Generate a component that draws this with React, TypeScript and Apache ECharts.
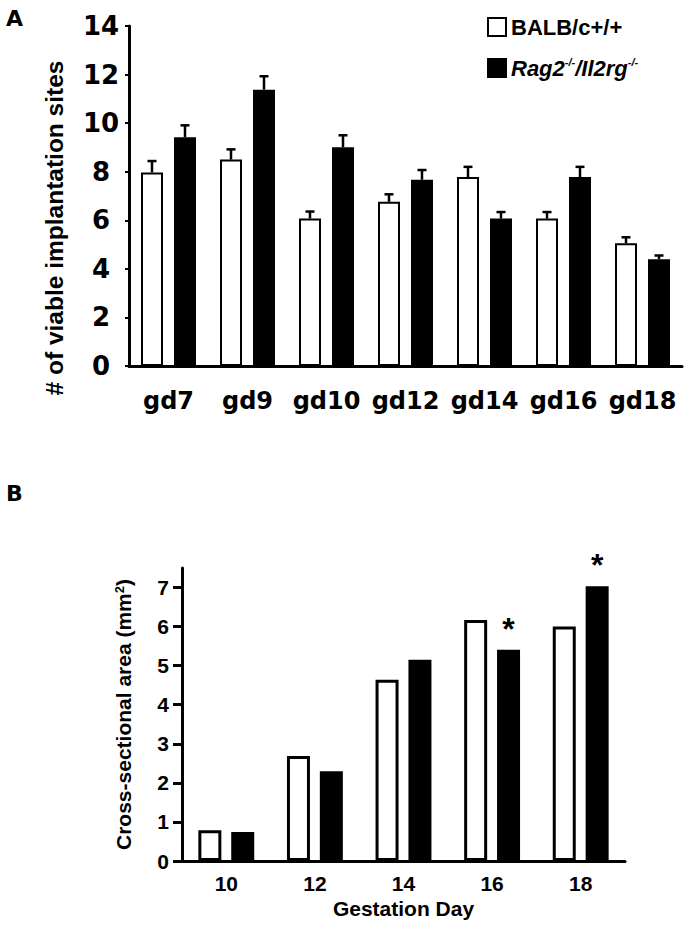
import React, { useEffect, useRef } from "react";
import * as echarts from "echarts";

// Panel A
const categoriesA = ["gd7", "gd9", "gd10", "gd12", "gd14", "gd16", "gd18"];
const balbA = [7.97, 8.5, 6.07, 6.76, 7.78, 6.07, 5.05];
const balbErrA = [0.47, 0.42, 0.29, 0.31, 0.42, 0.27, 0.25];
const ragA = [9.42, 11.38, 9.01, 7.67, 6.07, 7.78, 4.4];
const ragErrA = [0.49, 0.55, 0.49, 0.4, 0.27, 0.42, 0.15];
const yTicksA = [0, 2, 4, 6, 8, 10, 12, 14];

// Panel B
const categoriesB = ["10", "12", "14", "16", "18"];
const balbB = [0.79, 2.69, 4.64, 6.17, 6.0];
const ragB = [0.74, 2.3, 5.15, 5.41, 7.03];
const sigB = [false, false, false, true, true];
const yTicksB = [0, 1, 2, 3, 4, 5, 6, 7];

const NAME_BALB = "BALB/c+/+";
const NAME_RAG = "Rag2-/-/Il2rg-/-";

const DEJAVU = "'DejaVu Sans', sans-serif";
const ARIAL = "'Liberation Sans', Arial, sans-serif";

export default function App() {
  const ref = useRef<HTMLDivElement>(null);

  useEffect(() => {
    document.body.style.margin = "0";
    if (!ref.current) return;
    const chart = echarts.init(ref.current, null, { renderer: "svg" });

    const errData: any[] = [];
    balbA.forEach((v, i) => errData.push([i, v, balbErrA[i], -16.5]));
    ragA.forEach((v, i) => errData.push([i, v, ragErrA[i], 16.5]));

    const option: any = {
      animation: false,
      backgroundColor: "#fff",
      legend: {
        data: [NAME_BALB, NAME_RAG],
        orient: "vertical",
        left: 487,
        top: 16,
        padding: 0,
        itemWidth: 18,
        itemHeight: 18,
        itemGap: 18,
        selectedMode: false,
        icon: "rect",
        formatter: (name: string) =>
          name === NAME_RAG
            ? "{i|Rag2}{s|-/-}{i|/Il2rg}{s|-/-}"
            : "{n|BALB/c+/+}",
        textStyle: {
          color: "#000",
          fontFamily: ARIAL,
          fontWeight: "bold",
          fontSize: 22,
          rich: {
            n: { fontFamily: ARIAL, fontWeight: "bold", fontSize: 22, color: "#000", lineHeight: 24 },
            i: { fontFamily: ARIAL, fontWeight: "bold", fontStyle: "italic", fontSize: 22, color: "#000", lineHeight: 24 },
            s: { fontFamily: ARIAL, fontWeight: "bold", fontStyle: "italic", fontSize: 11, color: "#000", lineHeight: 24, verticalAlign: "top" },
          },
        },
      },
      graphic: [
        { type: "text", left: 6, top: 7, style: { text: "A", fontFamily: DEJAVU, fontWeight: "bold", fontSize: 22, fill: "#000" } },
        { type: "text", left: 6, top: 482, style: { text: "B", fontFamily: DEJAVU, fontWeight: "bold", fontSize: 22, fill: "#000" } },
        {
          type: "text",
          x: 54,
          y: 228,
          rotation: Math.PI / 2,
          style: {
            text: "# of viable implantation sites",
            fontFamily: ARIAL,
            fontWeight: "bold",
            fontSize: 24.5,
            fill: "#000",
            align: "center",
            verticalAlign: "middle",
          },
        },
      ],
      grid: [
        { left: 129, top: 26, width: 553, height: 340 },
        { left: 182, top: 568, width: 443, height: 293 },
      ],
      xAxis: [
        {
          gridIndex: 0,
          type: "category",
          data: categoriesA,
          axisLine: { lineStyle: { color: "#000", width: 3 } },
          axisTick: { show: false },
          axisLabel: { color: "#000", fontFamily: DEJAVU, fontWeight: "bold", fontSize: 24, margin: 23, interval: 0 },
        },
        {
          gridIndex: 1,
          type: "category",
          data: categoriesB,
          axisLine: { lineStyle: { color: "#000", width: 3 } },
          axisTick: { show: false },
          axisLabel: { color: "#000", fontFamily: ARIAL, fontWeight: "bold", fontSize: 21, margin: 12, interval: 0 },
          name: "Gestation Day",
          nameLocation: "middle",
          nameGap: 37,
          nameTextStyle: { color: "#000", fontFamily: ARIAL, fontWeight: "bold", fontSize: 21 },
        },
      ],
      yAxis: [
        {
          gridIndex: 0,
          type: "value",
          min: 0,
          max: 14,
          interval: 2,
          splitLine: { show: false },
          axisLine: { show: true, lineStyle: { color: "#000", width: 3 } },
          axisTick: { show: true, length: 4, lineStyle: { color: "#000", width: 2 }, customValues: yTicksA },
          axisLabel: { color: "#000", fontFamily: DEJAVU, fontWeight: "bold", fontSize: 26, align: "center", margin: 28, customValues: yTicksA },
        },
        {
          gridIndex: 1,
          type: "value",
          min: 0,
          max: 7.5,
          interval: 1,
          splitLine: { show: false },
          axisLine: { show: true, lineStyle: { color: "#000", width: 3 } },
          axisTick: { show: true, length: 9, lineStyle: { color: "#000", width: 3 }, customValues: yTicksB },
          axisLabel: { color: "#000", fontFamily: ARIAL, fontWeight: "bold", fontSize: 21, margin: 13, customValues: yTicksB },
          name: "Cross-sectional area (mm{sup|2})",
          nameLocation: "middle",
          nameRotate: 90,
          nameGap: 48,
          nameTextStyle: {
            color: "#000",
            fontFamily: ARIAL,
            fontWeight: "bold",
            fontSize: 21,
            rich: {
              sup: { fontFamily: ARIAL, fontWeight: "bold", fontSize: 13, color: "#000", verticalAlign: "top" },
            },
          },
        },
      ],
      series: [
        {
          name: NAME_BALB,
          type: "bar",
          xAxisIndex: 0,
          yAxisIndex: 0,
          data: balbA,
          barWidth: 22,
          barGap: "50%",
          itemStyle: { color: "#fff", borderColor: "#000", borderWidth: 2 },
        },
        {
          name: NAME_RAG,
          type: "bar",
          xAxisIndex: 0,
          yAxisIndex: 0,
          data: ragA,
          barWidth: 22,
          barGap: "50%",
          itemStyle: { color: "#000", borderColor: "#000", borderWidth: 2 },
        },
        {
          name: "errors",
          type: "custom",
          xAxisIndex: 0,
          yAxisIndex: 0,
          z: 5,
          data: errData,
          encode: { x: 0, y: 1 },
          renderItem: (params: any, api: any) => {
            const ci = api.value(0);
            const v = api.value(1);
            const e = api.value(2);
            const off = api.value(3);
            const base = api.coord([ci, v]);
            const top = api.coord([ci, v + e]);
            const x = base[0] + off;
            return {
              type: "group",
              children: [
                { type: "line", shape: { x1: x, y1: base[1], x2: x, y2: top[1] }, style: { stroke: "#000", lineWidth: 2.5 } },
                { type: "line", shape: { x1: x - 4.5, y1: top[1], x2: x + 4.5, y2: top[1] }, style: { stroke: "#000", lineWidth: 2.5 } },
              ],
            };
          },
        },
        {
          name: "BALB B",
          type: "bar",
          xAxisIndex: 1,
          yAxisIndex: 1,
          data: balbB,
          barWidth: 23,
          barGap: "43%",
          itemStyle: { color: "#fff", borderColor: "#000", borderWidth: 3 },
        },
        {
          name: "Rag B",
          type: "bar",
          xAxisIndex: 1,
          yAxisIndex: 1,
          data: ragB.map((v, i) =>
            sigB[i]
              ? {
                  value: v,
                  label: {
                    show: true,
                    position: "top",
                    distance: 5,
                    formatter: "*",
                    color: "#000",
                    fontFamily: ARIAL,
                    fontWeight: "bold",
                    fontSize: 32,
                  },
                }
              : v
          ),
          barWidth: 23,
          barGap: "43%",
          itemStyle: { color: "#000", borderColor: "#000", borderWidth: 3 },
        },
      ],
    };

    chart.setOption(option);
    return () => chart.dispose();
  }, []);

  return <div ref={ref} style={{ width: 689, height: 930 }} />;
}
